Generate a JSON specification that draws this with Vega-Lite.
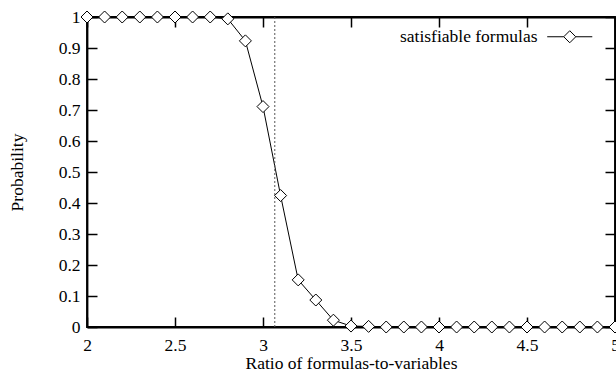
{
  "$schema": "https://vega.github.io/schema/vega-lite/v6.json",
  "width": 528,
  "height": 310,
  "autosize": {"type": "none"},
  "padding": {"left": 87, "top": 17, "right": 1, "bottom": 50},
  "background": "white",
  "config": {
    "font": "Liberation Serif",
    "view": {"stroke": "black", "strokeWidth": 1.8},
    "axis": {
      "labelFont": "Liberation Serif",
      "titleFont": "Liberation Serif",
      "labelFontSize": 17.5,
      "titleFontSize": 17.5,
      "titleFontWeight": "normal",
      "labelColor": "black",
      "titleColor": "black",
      "domainColor": "black",
      "domainWidth": 1.8,
      "tickColor": "black",
      "tickWidth": 1.5,
      "grid": false
    },
    "legend": {"labelFont": "Liberation Serif"}
  },
  "data": {
    "values": [
      {"x": 2.0, "p": 1, "series": "satisfiable formulas"},
      {"x": 2.1, "p": 1, "series": "satisfiable formulas"},
      {"x": 2.2, "p": 1, "series": "satisfiable formulas"},
      {"x": 2.3, "p": 1, "series": "satisfiable formulas"},
      {"x": 2.4, "p": 1, "series": "satisfiable formulas"},
      {"x": 2.5, "p": 1, "series": "satisfiable formulas"},
      {"x": 2.6, "p": 1, "series": "satisfiable formulas"},
      {"x": 2.7, "p": 1, "series": "satisfiable formulas"},
      {"x": 2.8, "p": 0.994, "series": "satisfiable formulas"},
      {"x": 2.9, "p": 0.923, "series": "satisfiable formulas"},
      {"x": 3.0, "p": 0.711, "series": "satisfiable formulas"},
      {"x": 3.1, "p": 0.424, "series": "satisfiable formulas"},
      {"x": 3.2, "p": 0.152, "series": "satisfiable formulas"},
      {"x": 3.3, "p": 0.087, "series": "satisfiable formulas"},
      {"x": 3.4, "p": 0.022, "series": "satisfiable formulas"},
      {"x": 3.5, "p": 0.003, "series": "satisfiable formulas"},
      {"x": 3.6, "p": 0.002, "series": "satisfiable formulas"},
      {"x": 3.7, "p": 0, "series": "satisfiable formulas"},
      {"x": 3.8, "p": 0, "series": "satisfiable formulas"},
      {"x": 3.9, "p": 0, "series": "satisfiable formulas"},
      {"x": 4.0, "p": 0, "series": "satisfiable formulas"},
      {"x": 4.1, "p": 0, "series": "satisfiable formulas"},
      {"x": 4.2, "p": 0, "series": "satisfiable formulas"},
      {"x": 4.3, "p": 0, "series": "satisfiable formulas"},
      {"x": 4.4, "p": 0, "series": "satisfiable formulas"},
      {"x": 4.5, "p": 0, "series": "satisfiable formulas"},
      {"x": 4.6, "p": 0, "series": "satisfiable formulas"},
      {"x": 4.7, "p": 0, "series": "satisfiable formulas"},
      {"x": 4.8, "p": 0, "series": "satisfiable formulas"},
      {"x": 4.9, "p": 0, "series": "satisfiable formulas"},
      {"x": 5.0, "p": 0, "series": "satisfiable formulas"}
    ]
  },
  "layer": [
    {
      "mark": {"type": "line", "color": "black", "strokeWidth": 1},
      "encoding": {
        "x": {"field": "x", "type": "quantitative", "scale": {"domain": [2, 5], "nice": false},
          "axis": {"orient": "bottom", "title": "Ratio of formulas-to-variables", "values": [2, 2.5, 3, 3.5, 4, 4.5, 5], "format": "~g", "tickSize": -10, "labelPadding": 19, "titlePadding": 1, "labelFlush": false, "labelFont": "Liberation Serif", "titleFont": "Liberation Serif"}},
        "y": {"field": "p", "type": "quantitative", "scale": {"domain": [0, 1], "nice": false},
          "axis": {"orient": "left", "title": "Probability", "values": [0, 0.1, 0.2, 0.3, 0.4, 0.5, 0.6, 0.7, 0.8, 0.9, 1], "format": ".1~f", "tickSize": -10, "labelPadding": 17, "titlePadding": 32, "labelFlush": false, "labelFont": "Liberation Serif", "titleFont": "Liberation Serif"}}
      }
    },
    {
      "data": {"values": [{"t": 3.067}]},
      "mark": {"type": "rule", "color": "#555555", "strokeWidth": 1, "strokeDash": [2, 2]},
      "encoding": {
        "x": {"field": "t", "type": "quantitative", "scale": {"domain": [2, 5], "nice": false}, "axis": null}
      }
    },
    {
      "mark": {"type": "point", "shape": "diamond", "filled": true, "fill": "white", "strokeWidth": 1, "size": 144, "opacity": 1},
      "encoding": {
        "x": {"field": "x", "type": "quantitative", "scale": {"domain": [2, 5], "nice": false}, "axis": {"orient": "top", "values": [2, 2.5, 3, 3.5, 4, 4.5, 5], "labels": false, "title": null, "tickSize": -10}},
        "y": {"field": "p", "type": "quantitative", "scale": {"domain": [0, 1], "nice": false}, "axis": {"orient": "right", "values": [0, 0.1, 0.2, 0.3, 0.4, 0.5, 0.6, 0.7, 0.8, 0.9, 1], "labels": false, "title": null, "tickSize": -10}},
        "stroke": {"field": "series", "type": "nominal", "scale": {"range": ["black"]},
          "legend": {"title": null, "orient": "none", "legendX": 474, "legendY": 11, "padding": 0,
            "symbolType": "M-4,0H-1.07M1.07,0H4M0,-1.07L1.07,0L0,1.07L-1.07,0Z",
            "symbolSize": 127, "symbolStrokeWidth": 1, "symbolFillColor": "white", "symbolStrokeColor": "black",
            "labelAlign": "right", "labelOffset": -41, "labelFontSize": 17.5, "labelFont": "Liberation Serif", "labelColor": "black", "labelLimit": 400}}
      }
    }
  ],
  "resolve": {"axis": {"x": "independent", "y": "independent"}}
}
